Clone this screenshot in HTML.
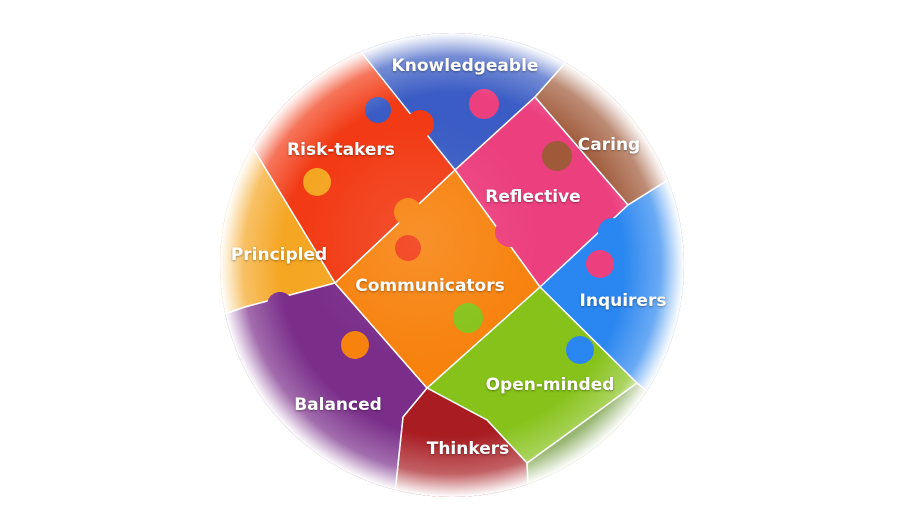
<!DOCTYPE html>
<html><head><style>
html,body{margin:0;padding:0;background:#fff;width:900px;height:520px;overflow:hidden;}
svg{display:block}
text{font-family:"DejaVu Sans","Liberation Sans",sans-serif;font-weight:bold;font-size:17px;fill:#fff;text-anchor:middle}
</style></head><body>
<svg width="900" height="520" viewBox="0 0 900 520" xmlns="http://www.w3.org/2000/svg">
<defs>
<clipPath id="c"><circle cx="452" cy="265" r="232"/></clipPath>
<radialGradient id="v" cx="452" cy="265" r="232" gradientUnits="userSpaceOnUse">
<stop offset="0" stop-color="#fff" stop-opacity="0"/>
<stop offset="0.74" stop-color="#fff" stop-opacity="0"/>
<stop offset="0.9" stop-color="#fff" stop-opacity="0.3"/>
<stop offset="0.97" stop-color="#fff" stop-opacity="0.8"/>
<stop offset="1" stop-color="#fff" stop-opacity="1"/>
</radialGradient>
<radialGradient id="s" cx="420" cy="240" r="120" gradientUnits="userSpaceOnUse">
<stop offset="0" stop-color="#fff" stop-opacity="0.12"/>
<stop offset="1" stop-color="#fff" stop-opacity="0"/>
</radialGradient>
</defs>
<g clip-path="url(#c)" stroke="#fff" stroke-width="1.5" stroke-linejoin="round">
<rect x="200" y="20" width="500" height="500" fill="#c8a0a0" stroke="none"/>
<polygon points="150,-10,300,-10,358,48,253,148,150,200" fill="#d89090"/>
<polygon points="300,-10,630,-10,535,97,455,170" fill="#3a5cc4"/>
<polygon points="630,-10,780,-10,780,110,628,205,535,97" fill="#a05a3a"/>
<polygon points="455,170,535,97,628,205,540,287" fill="#ec3f7e"/>
<polygon points="200,100,358,48,455,170,335,283,253,148" fill="#f23a14"/>
<polygon points="253,148,335,283,245,307,150,340,150,190" fill="#f5a623"/>
<polygon points="540,287,628,205,780,110,780,500,637,383" fill="#2a86f0"/>
<polygon points="637,383,780,500,600,560,530,540,527,463" fill="#6f9a3a"/>
<polygon points="427,388,540,287,637,383,527,463,487,420" fill="#86c21a"/>
<polygon points="427,388,487,420,527,463,530,540,390,540,403,417" fill="#a81c22"/>
<polygon points="335,283,427,388,403,417,390,540,150,540,150,340,245,307" fill="#7a2e8a"/>
<polygon points="455,170,540,287,427,388,335,283" fill="#f7820e"/>
<g stroke="none">
<circle cx="378" cy="110" r="13" fill="#3a5cc4"/>
<circle cx="420" cy="124" r="14" fill="#f23a14"/>
<circle cx="484" cy="104" r="15" fill="#ec3f7e"/>
<circle cx="557" cy="156" r="15" fill="#a05a3a"/>
<circle cx="317" cy="182" r="14" fill="#f5a623"/>
<circle cx="408" cy="212" r="14" fill="#f7820e"/>
<circle cx="408" cy="248" r="13" fill="#f23a14"/>
<circle cx="510" cy="232" r="15" fill="#ec3f7e"/>
<circle cx="612" cy="232" r="14" fill="#2a86f0"/>
<circle cx="600" cy="264" r="14" fill="#ec3f7e"/>
<circle cx="468" cy="318" r="15" fill="#86c21a"/>
<circle cx="355" cy="345" r="14" fill="#f7820e"/>
<circle cx="280" cy="305" r="13" fill="#7a2e8a"/>
<circle cx="580" cy="350" r="14" fill="#2a86f0"/>
<circle cx="520" cy="422" r="14" fill="#86c21a"/>
</g>
<circle cx="452" cy="265" r="232" fill="url(#s)" stroke="none"/>
</g>
<circle cx="452" cy="265" r="232" fill="url(#v)"/>
<g style="filter:drop-shadow(0 1px 1px rgba(0,0,0,0.35))">
<text x="465" y="71">Knowledgeable</text>
<text x="341" y="155">Risk-takers</text>
<text x="609" y="150">Caring</text>
<text x="533" y="202">Reflective</text>
<text x="279" y="260">Principled</text>
<text x="430" y="291">Communicators</text>
<text x="623" y="306">Inquirers</text>
<text x="550" y="390">Open-minded</text>
<text x="338" y="410">Balanced</text>
<text x="468" y="454">Thinkers</text>
</g>
</svg>
</body></html>
